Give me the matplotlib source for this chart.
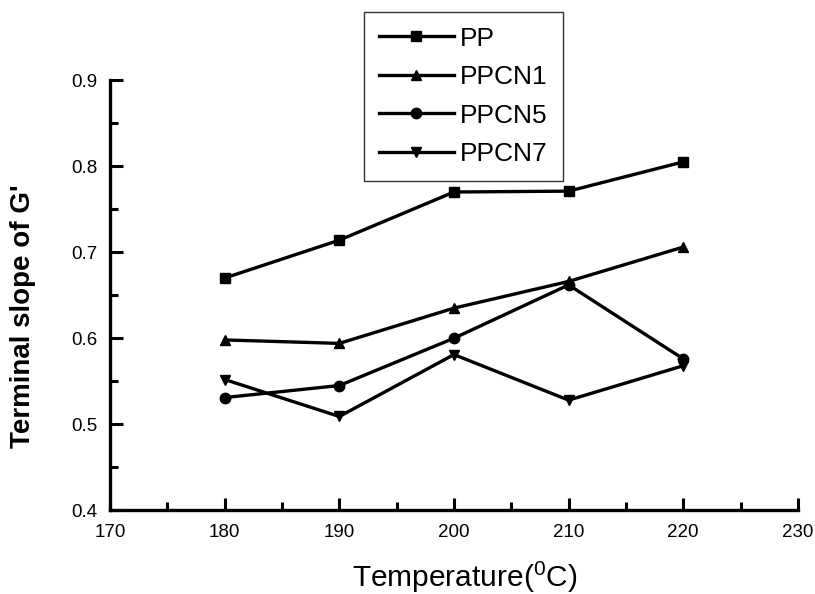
import matplotlib
matplotlib.use("Agg")
import matplotlib.pyplot as plt
from matplotlib.ticker import MultipleLocator, FormatStrFormatter

plt.rcParams['font.family'] = ['Liberation Sans', 'DejaVu Sans']
plt.rcParams['mathtext.fontset'] = 'custom'
plt.rcParams['mathtext.rm'] = 'Liberation Sans'
plt.rcParams['mathtext.it'] = 'Liberation Sans:italic'

temps = [180, 190, 200, 210, 220]
pp = [0.670, 0.714, 0.770, 0.771, 0.805]
ppcn1 = [0.598, 0.594, 0.635, 0.666, 0.706]
ppcn5 = [0.531, 0.545, 0.600, 0.662, 0.576]
ppcn7 = [0.552, 0.509, 0.581, 0.528, 0.568]
labels = ['PP', 'PPCN1', 'PPCN5', 'PPCN7']
markers = ['s', '^', 'o', 'v']

fig = plt.figure(figsize=(8.15, 5.94), dpi=100)
ax = fig.add_axes([0.135, 0.141, 0.844, 0.724])

for vals, lab, mk in zip([pp, ppcn1, ppcn5, ppcn7], labels, markers):
    ax.plot(temps, vals, color='black', linewidth=2.4, marker=mk,
            markersize=7.5, label=lab)

ax.set_xlim(170, 230)
ax.set_ylim(0.4, 0.9)
ax.xaxis.set_major_locator(MultipleLocator(10))
ax.xaxis.set_minor_locator(MultipleLocator(5))
ax.yaxis.set_major_locator(MultipleLocator(0.1))
ax.yaxis.set_minor_locator(MultipleLocator(0.05))
ax.spines['top'].set_visible(False)
ax.spines['right'].set_visible(False)
for s in ['left', 'bottom']:
    ax.spines[s].set_linewidth(2.4)
ax.tick_params(which='major', direction='in', length=9, width=2.2,
               labelsize=13.5)
ax.tick_params(axis='x', which='major', pad=10)
ax.tick_params(axis='y', which='major', pad=9)
ax.tick_params(which='minor', direction='in', length=6, width=2.2)
ax.yaxis.set_major_formatter(FormatStrFormatter('%.1f'))

ax.set_xlabel('Temperature($^{0}$C)', fontsize=21.5)
ax.xaxis.set_label_coords(0.515, -0.115)
ax.set_ylabel("Terminal slope of G'", fontsize=20, fontweight='bold')
ax.yaxis.set_label_coords(-0.107, 0.451)

leg = ax.legend(loc='upper left', bbox_to_anchor=(364/815, 1 - 12/594),
                bbox_transform=fig.transFigure, fontsize=19,
                frameon=True, fancybox=False, edgecolor='black',
                handlelength=2.85, handletextpad=0.25, borderpad=0.55,
                labelspacing=0.55, borderaxespad=0)
leg.get_frame().set_linewidth(1.0)

fig.savefig('out.png', dpi=100)
